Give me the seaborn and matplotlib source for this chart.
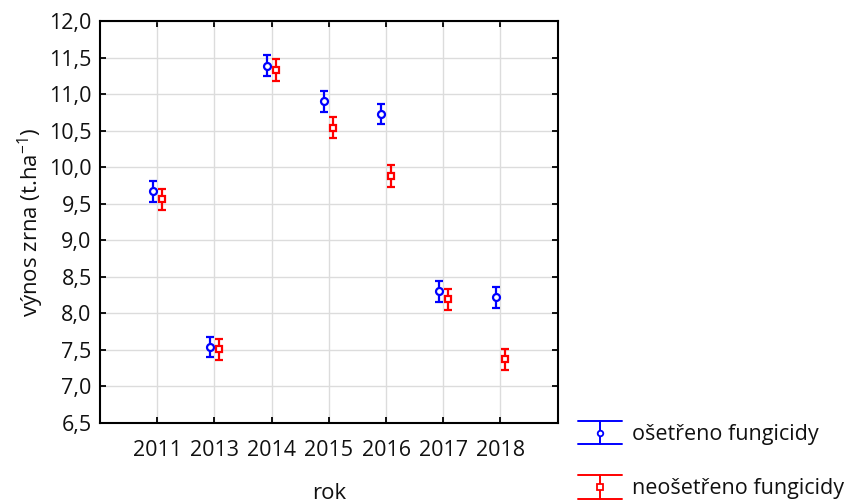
import matplotlib
matplotlib.use("Agg")
import matplotlib.pyplot as plt
from matplotlib.legend_handler import HandlerBase
from matplotlib.lines import Line2D
from matplotlib.ticker import FuncFormatter, MultipleLocator
import numpy as np
import seaborn as sns

# Grain yield by year, treated vs untreated with fungicides
years = ["2011", "2013", "2014", "2015", "2016", "2017", "2018"]
treated = [9.67, 7.54, 11.39, 10.90, 10.73, 8.30, 8.22]
treated_err = [0.14, 0.14, 0.14, 0.14, 0.14, 0.14, 0.14]
untreated = [9.56, 7.51, 11.33, 10.54, 9.88, 8.19, 7.37]
untreated_err = [0.145, 0.145, 0.145, 0.145, 0.145, 0.145, 0.145]
series_labels = ["ošetřeno fungicidy", "neošetřeno fungicidy"]

sns.set_theme(style="whitegrid")
plt.rcParams["font.family"] = ["Open Sans", "DejaVu Sans"]
plt.rcParams["mathtext.fontset"] = "custom"
plt.rcParams["mathtext.rm"] = "Open Sans"
plt.rcParams["mathtext.it"] = "Open Sans"

fig = plt.figure(figsize=(8.49, 5.04), dpi=100)
ax = fig.add_axes([0.1178, 0.1607, 0.539, 0.7976])

x = np.arange(len(years))
offset = 0.08
styles = [
    dict(color="#0000ff", marker="o", err=treated_err, vals=treated, dx=-offset),
    dict(color="#ff0000", marker="s", err=untreated_err, vals=untreated, dx=offset),
]
for st in styles:
    ax.errorbar(x + st["dx"], st["vals"], yerr=st["err"], fmt=st["marker"],
                color=st["color"], mfc="white", mec=st["color"], mew=1.6,
                ms=5, elinewidth=1.6, capsize=3, capthick=1.6, zorder=3)

ax.set_xlim(-1, 7)
ax.set_ylim(6.5, 12.0)
ax.set_xticks(x)
ax.set_xticklabels(years)
ax.yaxis.set_major_locator(MultipleLocator(0.5))
ax.yaxis.set_major_formatter(FuncFormatter(lambda v, p: f"{v:.1f}".replace(".", ",")))

ax.grid(True, color="#dcdcdc", linewidth=1.0)
for sp in ax.spines.values():
    sp.set_visible(True)
    sp.set_color("black")
    sp.set_linewidth(1.5)
ax.tick_params(axis="both", which="major", direction="in", length=4, width=1.3,
               color="black", top=True, right=True, bottom=True, left=True,
               labelsize=15.5, labelcolor="#111111", pad=6)
ax.tick_params(axis="x", pad=12)
ax.set_facecolor("white")

ax.set_xlabel("rok", fontsize=16, labelpad=16, color="#111111")
ax.set_ylabel(r"výnos zrna (t.ha$^{-1}$)", fontsize=16, labelpad=2, color="#111111")


class CapHandler(HandlerBase):
    def __init__(self, marker, **kw):
        super().__init__(**kw)
        self.marker = marker

    def create_artists(self, legend, orig_handle, xdescent, ydescent, width, height,
                       fontsize, trans):
        c = orig_handle.get_color()
        w = width
        top = height / 2 + 8.5
        bot = height / 2 - 8.5
        mid = height / 2
        arts = [
            Line2D([0, w], [top, top], color=c, lw=1.4),
            Line2D([0, w], [bot, bot], color=c, lw=1.4),
            Line2D([w / 2, w / 2], [bot, top], color=c, lw=1.4),
            Line2D([w / 2], [mid], marker=self.marker, color=c, mfc="white",
                   mec=c, mew=1.3, ms=4, linestyle="none"),
        ]
        for a in arts:
            a.set_transform(trans)
        return arts


h1 = Line2D([], [], color="#0000ff")
h2 = Line2D([], [], color="#ff0000")
fig.legend([h1, h2], series_labels, loc="upper left",
           bbox_to_anchor=(0.668, 0.18), frameon=False, fontsize=15.5,
           handler_map={h1: CapHandler("o"), h2: CapHandler("s")},
           handlelength=2.05, handletextpad=0.45, labelspacing=1.55,
           labelcolor="#111111", borderpad=0)

fig.savefig("out.png", dpi=100, facecolor="white")
